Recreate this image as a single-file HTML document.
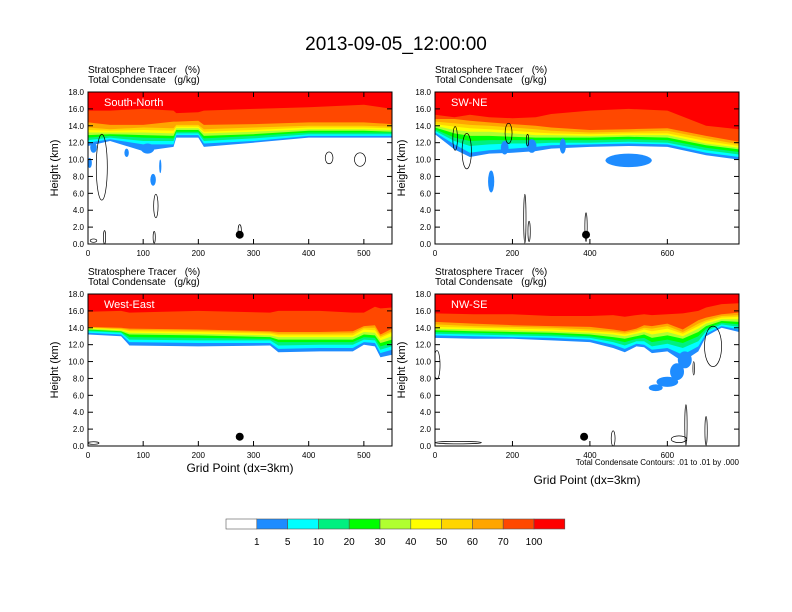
<!DOCTYPE html>
<html><head><meta charset="utf-8"><style>
body{margin:0;background:#fff;}
svg{display:block;font-family:"Liberation Sans",sans-serif;}
text{white-space:pre;}
</style></head><body>
<svg id="chart" width="792" height="612" viewBox="0 0 792 612">
<text x="396" y="50" font-size="19" text-anchor="middle">2013-09-05_12:00:00</text>
<g id="panels"></g>
<g id="cbar"></g>
</svg>
<script>
const levelColors=["#1e8cff","#00ffff","#00f080","#00ff00","#b0ff30","#ffff00","#ffd500","#ffa500","#ff4800","#ff0000"];
const levelLabels=["1","5","10","20","30","40","50","60","70","100"];
const yTicks=[0,2,4,6,8,10,12,14,16,18];
// Panel 1 South-North
const p1x=[0,40,100,155,160,200,210,300,400,500,551];
const p1l1=[11.6,12.2,11.0,11.5,12.6,12.6,11.5,12.0,12.6,12.6,12.6];
const p1l5=[12.0,12.4,11.8,11.8,12.9,12.9,11.9,12.2,12.8,12.8,12.8];
const p1l10=[12.3,12.6,12.2,12.2,13.1,13.1,12.2,12.5,13.0,13.0,13.0];
const p1l20=[12.6,12.8,12.6,12.5,13.3,13.3,12.5,12.8,13.2,13.2,13.2];
const p1l30=[12.9,13.0,12.9,12.8,13.5,13.5,12.8,13.0,13.4,13.4,13.3];
const p1l40=[13.2,13.2,13.2,13.1,13.7,13.7,13.1,13.3,13.6,13.6,13.5];
const p1l50=[13.5,13.4,13.5,13.4,13.9,13.9,13.3,13.5,13.8,13.8,13.7];
const p1l60=[13.8,13.6,13.8,13.7,14.1,14.1,13.6,13.8,14.0,14.0,13.9];
const p1l70=[14.4,14.1,14.1,14.5,14.5,14.6,14.1,14.2,14.4,14.4,14.2];
const p1l100=[15.8,15.8,16.0,15.8,15.5,15.6,15.8,16.0,16.2,16.5,16.0];
const p1blobs=[[3,9.6,4,0.6],[10,11.4,6,0.6],[70,10.8,4,0.5],[108,11.3,12,0.6],[118,7.6,5,0.7],[131,9.2,2,0.8]];
const p1conts=[[25,9.1,10,3.9],[437,10.2,7,0.7],[493,10.0,10,0.8],[123,4.5,4,1.4],[30,0.8,2,0.8],[120,0.8,2,0.7],[275,1.5,3,0.8],[10,0.4,6,0.2]];
// Panel 2 SW-NE
const p2x=[0,50,90,140,200,260,300,400,500,600,700,785];
const p2l1=[13.0,11.2,10.3,10.7,10.8,11.0,11.3,11.5,11.6,11.5,10.5,10.0];
const p2l5=[13.2,11.8,10.8,11.1,11.3,11.5,11.7,11.8,11.9,11.8,10.8,10.3];
const p2l10=[13.4,12.2,11.6,11.8,11.9,11.9,12.0,12.0,12.1,12.0,11.1,10.6];
const p2l20=[13.6,12.6,12.2,12.3,12.3,12.3,12.3,12.3,12.4,12.3,11.4,10.9];
const p2l30=[13.8,13.1,12.8,12.8,12.7,12.6,12.6,12.6,12.7,12.6,11.7,11.2];
const p2l40=[14.0,13.5,13.3,13.3,13.1,12.9,12.9,12.8,12.9,12.9,11.9,11.4];
const p2l50=[14.2,13.9,13.7,13.6,13.4,13.2,13.1,13.0,13.1,13.1,12.2,11.6];
const p2l60=[14.5,14.3,14.1,14.0,13.8,13.6,13.4,13.2,13.3,13.4,12.5,11.8];
const p2l70=[14.8,14.8,14.6,14.4,14.2,14.0,13.8,13.5,13.6,13.7,12.8,12.1];
const p2l100=[15.3,15.0,15.3,15.0,14.9,15.0,15.4,15.8,16.0,15.8,14.0,13.6];
const p2blobs=[[500,9.9,60,0.8],[145,7.4,8,1.3],[250,11.6,12,0.8],[330,11.6,8,0.9],[180,11.4,10,0.8]];
const p2conts=[[52,12.5,6,1.4],[82,11.0,12,2.1],[190,13.1,9,1.2],[239,12.3,3,0.7],[232,3.0,3,2.9],[243,1.5,3,1.2],[390,2.0,3,1.7]];
// Panel 3 West-East
const p3x=[0,60,75,200,330,345,420,480,500,520,530,551];
const p3l1=[13.2,13.0,11.9,11.8,11.9,11.1,11.2,11.2,12.0,11.8,10.5,10.8];
const p3l5=[13.4,13.2,12.3,12.2,12.2,11.5,11.6,11.6,12.3,12.2,11.0,11.4];
const p3l10=[13.6,13.4,12.6,12.5,12.5,11.9,12.0,12.0,12.6,12.5,11.4,11.8];
const p3l20=[13.7,13.5,12.9,12.8,12.7,12.3,12.3,12.3,12.9,12.8,11.8,12.2];
const p3l30=[13.8,13.6,13.2,13.1,12.9,12.6,12.6,12.6,13.2,13.1,12.2,12.6];
const p3l40=[13.9,13.7,13.4,13.3,13.1,12.9,12.9,12.9,13.5,13.4,12.5,13.0];
const p3l50=[14.0,13.8,13.6,13.5,13.3,13.1,13.1,13.1,13.8,13.7,12.8,13.4];
const p3l60=[14.05,13.9,13.75,13.65,13.45,13.3,13.3,13.35,14.0,14.0,13.0,13.6];
const p3l70=[14.1,14.0,13.9,13.8,13.6,13.5,13.5,13.6,14.2,14.3,13.2,13.9];
const p3l100=[15.9,16.0,15.8,16.0,15.8,16.0,16.0,15.8,15.8,16.5,16.3,16.4];
const p3blobs=[];
const p3conts=[[10,0.35,10,0.15]];
// Panel 4 NW-SE
const p4x=[0,100,200,300,400,460,490,520,540,560,600,640,680,700,740,785];
const p4l1=[12.8,12.7,12.7,12.5,12.3,11.6,11.1,11.8,11.7,11.0,11.2,10.0,11.2,13.0,14.0,13.5];
const p4l5=[13.1,13.0,12.9,12.8,12.6,12.0,11.5,12.1,12.0,11.4,11.6,10.8,11.8,13.3,14.2,13.8];
const p4l10=[13.3,13.2,13.1,13.0,12.8,12.3,11.9,12.4,12.4,11.8,12.1,11.6,12.4,13.6,14.4,14.1];
const p4l20=[13.5,13.4,13.3,13.2,13.0,12.6,12.3,12.7,12.8,12.3,12.6,12.2,13.0,13.9,14.6,14.4];
const p4l30=[13.7,13.6,13.5,13.4,13.2,12.9,12.7,13.0,13.2,12.8,13.1,12.7,13.5,14.2,14.8,14.7];
const p4l40=[13.9,13.8,13.7,13.6,13.4,13.2,13.0,13.3,13.5,13.2,13.5,13.0,13.9,14.5,15.0,15.0];
const p4l50=[14.1,14.0,13.9,13.8,13.6,13.4,13.2,13.5,13.8,13.6,13.9,13.3,14.2,14.7,15.2,15.3];
const p4l60=[14.4,14.2,14.1,14.0,13.8,13.6,13.4,13.7,14.0,13.9,14.2,13.5,14.5,14.9,15.4,15.5];
const p4l70=[14.7,14.5,14.3,14.2,14.1,13.8,13.6,13.9,14.3,14.2,14.5,13.8,14.9,15.2,15.6,15.8];
const p4l100=[15.7,15.6,15.6,15.4,15.4,15.5,15.3,15.5,15.6,15.5,15.6,15.7,16.0,16.4,16.8,16.9];
const p4blobs=[[645,10.2,18,1.0],[625,8.8,18,1.0],[600,7.6,28,0.6],[570,6.9,18,0.4]];
const p4conts=[[5,9.6,8,1.7],[718,11.8,22,2.4],[668,9.2,2,0.8],[648,2.5,3,2.4],[700,1.8,3,1.7],[630,0.8,20,0.4],[460,0.9,5,0.9],[60,0.4,60,0.15]];

const panels=[
 {name:"south-north",label:"South-North",x0:88,y0:92,w:304,h:152,xmax:551,ticks:[0,100,200,300,400,500],xs:p1x,lv:[p1l1,p1l5,p1l10,p1l20,p1l30,p1l40,p1l50,p1l60,p1l70,p1l100],blobs:p1blobs,conts:p1conts,dot:[275,1.1],title:false},
 {name:"sw-ne",label:"SW-NE",x0:435,y0:92,w:304,h:152,xmax:785,ticks:[0,200,400,600],xs:p2x,lv:[p2l1,p2l5,p2l10,p2l20,p2l30,p2l40,p2l50,p2l60,p2l70,p2l100],blobs:p2blobs,conts:p2conts,dot:[390,1.1],title:false},
 {name:"west-east",label:"West-East",x0:88,y0:294,w:304,h:152,xmax:551,ticks:[0,100,200,300,400,500],xs:p3x,lv:[p3l1,p3l5,p3l10,p3l20,p3l30,p3l40,p3l50,p3l60,p3l70,p3l100],blobs:p3blobs,conts:p3conts,dot:[275,1.1],title:true},
 {name:"nw-se",label:"NW-SE",x0:435,y0:294,w:304,h:152,xmax:785,ticks:[0,200,400,600],xs:p4x,lv:[p4l1,p4l5,p4l10,p4l20,p4l30,p4l40,p4l50,p4l60,p4l70,p4l100],blobs:p4blobs,conts:p4conts,dot:[385,1.1],title:true,note:true}
];
const NS="http://www.w3.org/2000/svg";
function mk(tag,attrs,parent,txt){const e=document.createElementNS(NS,tag);for(const k in attrs)e.setAttribute(k,attrs[k]);if(txt!==undefined)e.textContent=txt;parent.appendChild(e);return e;}
const root=document.getElementById("panels");
panels.forEach((p,pi)=>{
  const sx=v=>p.x0+v/p.xmax*p.w, sy=v=>p.y0+p.h-v/18*p.h;
  const g=mk("g",{},root);
  
  
  const cid="clip"+pi;
  const cp=mk("clipPath",{id:cid},g);mk("rect",{x:p.x0,y:p.y0,width:p.w,height:p.h},cp);
  const plot=mk("g",{"clip-path":"url(#"+cid+")"},g);
  p.lv.forEach((arr,li)=>{
    let d="M"+sx(p.xs[0])+","+p.y0;
    p.xs.forEach((xv,i)=>{d+=" L"+sx(xv).toFixed(1)+","+sy(arr[i]).toFixed(1);});
    d+=" L"+sx(p.xs[p.xs.length-1])+","+p.y0+" Z";
    const path=mk("path",{d:d,fill:levelColors[li]},plot);
    
    
  });
  p.blobs.forEach(b=>{
    const e=mk("ellipse",{cx:sx(b[0]),cy:sy(b[1]),rx:b[2]/p.xmax*p.w,ry:b[3]/18*p.h,fill:levelColors[0]},plot);
    
    
  });
  p.conts.forEach(c=>{
    const e=mk("ellipse",{cx:sx(c[0]),cy:sy(c[1]),rx:c[2]/p.xmax*p.w,ry:c[3]/18*p.h,fill:"none",stroke:"#000","stroke-width":0.7},plot);
    
    
  });
  const dot=mk("circle",{cx:sx(p.dot[0]),cy:sy(p.dot[1]),r:4,fill:"#000"},g);
  
  
  const fr=mk("rect",{x:p.x0,y:p.y0,width:p.w,height:p.h,fill:"none",stroke:"#000","stroke-width":1},g);
  
  
  const lab=mk("text",{x:p.x0+16,y:p.y0+14,fill:"#fff","font-size":11},g,p.label);
  
  
  const s1=mk("text",{x:p.x0,y:p.y0-19,"font-size":10},g,"Stratosphere Tracer   (%)");
  
  
  const s2=mk("text",{x:p.x0,y:p.y0-9,"font-size":10},g,"Total Condensate   (g/kg)");
  
  
  yTicks.forEach(t=>{
    const y=sy(t);
    mk("line",{x1:p.x0,x2:p.x0+5,y1:y,y2:y,stroke:"#000"},g);
    mk("line",{x1:p.x0+p.w,x2:p.x0+p.w-5,y1:y,y2:y,stroke:"#000"},g);
    const tl=mk("text",{x:p.x0-4,y:y+3,"font-size":8,"text-anchor":"end"},g,t.toFixed(1));
    
    
  });
  p.ticks.forEach(t=>{
    const x=sx(t);
    mk("line",{x1:x,x2:x,y1:p.y0+p.h,y2:p.y0+p.h-5,stroke:"#000"},g);
    mk("line",{x1:x,x2:x,y1:p.y0,y2:p.y0+5,stroke:"#000"},g);
    const tl=mk("text",{x:x,y:p.y0+p.h+12,"font-size":8,"text-anchor":"middle"},g,String(t));
    
    
  });
  const yt=mk("text",{x:0,y:0,"font-size":11,"text-anchor":"middle",transform:"translate("+(p.x0-30)+","+(p.y0+p.h/2)+") rotate(-90)"},g,"Height (km)");
  
  
  if(p.title){
    const xt=mk("text",{x:p.x0+p.w/2,y:p.note?484:472,"font-size":12,"text-anchor":"middle"},g,"Grid Point (dx=3km)");
    
    
  }
  if(p.note){
    const nt=mk("text",{x:p.x0+p.w,y:p.y0+p.h+19,"font-size":8,"text-anchor":"end"},g,"Total Condensate Contours: .01 to .01 by .000");
    
    
  }
});
// colorbar
const cb=document.getElementById("cbar");
const cbColors=["#ffffff"].concat(levelColors);
const bw=30.8;
cbColors.forEach((c,i)=>{
  const r=mk("rect",{x:226+i*bw,y:519,width:bw,height:10,fill:c,stroke:"#555","stroke-width":0.6},cb);
  
  
});
levelLabels.forEach((l,i)=>{
  const t=mk("text",{x:226+(i+1)*bw,y:545,"font-size":10,"text-anchor":"middle"},cb,l);
  
  
});
</script>
</body></html>
